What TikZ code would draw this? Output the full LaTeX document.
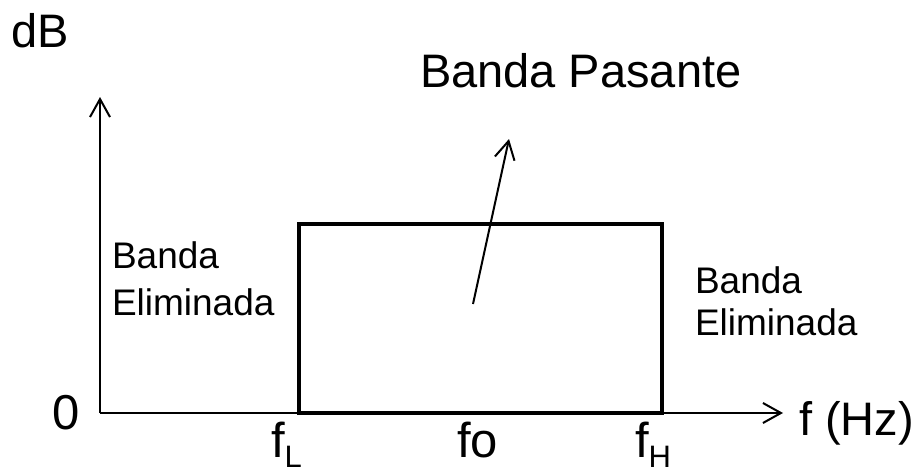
\documentclass[tikz,border=0pt]{standalone}
\usepackage{fontspec}
\setmainfont{Liberation Sans}
\usetikzlibrary{arrows.meta}
\tikzset{
  lbl/.style={anchor=base west, inner sep=0pt, outer sep=0pt},
  big/.style={lbl, font=\fontsize{47}{50}\selectfont},
  mid/.style={lbl, font=\fontsize{37}{40}\selectfont},
  tick/.style={lbl, font=\fontsize{49}{50}\selectfont},
  axis/.style={line width=2pt, -{Straight Barb[length=18pt,width=20pt,line width=2pt]}},
  band/.style={line width=4pt},
}
\newcommand{\sublbl}[2]{#1\raisebox{-10pt}{\fontsize{31}{31}\selectfont #2}}
\begin{document}
\begin{tikzpicture}[x=1pt,y=-1pt]
\useasboundingbox (0,0) rectangle (922,471);
% axes
\coordinate (O) at (100,413);
\coordinate (ytop) at (100,97);
\coordinate (xend) at (783,413);
\draw[axis] (O) -- (ytop);
\draw[axis] (O) -- (xend);
% pass band box
\coordinate (bl) at (299,413);
\coordinate (tr) at (662,224);
\draw[band] (bl) rectangle (tr);
% pointer arrow
\coordinate (ptail) at (473,304);
\coordinate (ptip) at (509,139);
\draw[axis] (ptail) -- (ptip);
% labels
\node[big] (dB) at (11,47) {dB};
\node[big] (bp) at (420,87) {Banda Pasante};
\node[mid] (bel1) at (112,268) {Banda};
\node[mid] (bel2) at (112,315) {Eliminada};
\node[mid] (ber1) at (695,293) {Banda};
\node[mid] (ber2) at (695,335) {Eliminada};
\node[tick] (zero) at (52,429) {0};
\node[tick] (fL) at (271,457) {\sublbl{f}{L}};
\node[tick] (fo) at (457,457) {fo};
\node[tick] (fH) at (635,457) {\sublbl{f}{H}};
\node[big] (fHz) at (799,435) {f (Hz)};
\end{tikzpicture}
\end{document}
